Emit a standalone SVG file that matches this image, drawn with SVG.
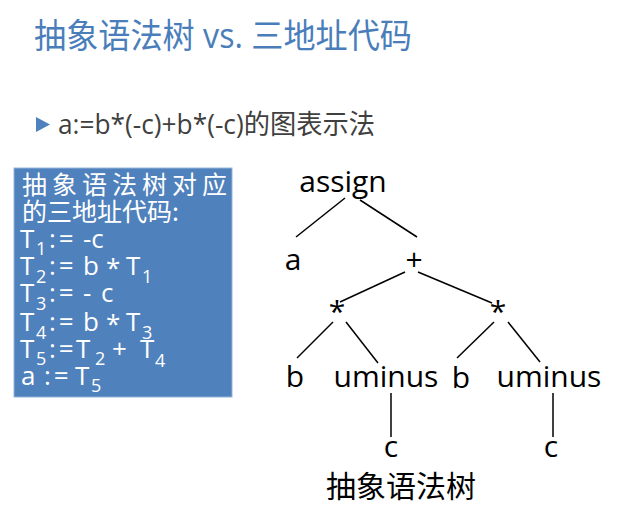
<svg xmlns="http://www.w3.org/2000/svg" width="624" height="507" viewBox="0 0 624 507">
<style>
.title{font-family:"Open Sans","Noto Sans CJK SC",sans-serif;font-size:34px;fill:#4a7ebb}
.sub{font-family:"Open Sans","Noto Sans CJK SC",sans-serif;font-size:27px;fill:#404040}
.box{font-family:"Open Sans","Noto Sans CJK SC",sans-serif;font-size:26px;fill:#ffffff}
.boxcjk{font-family:"Noto Sans CJK SC",sans-serif;font-size:25px;fill:#ffffff}
.s{font-size:18px}
.eq{letter-spacing:3px}
.node{font-family:"Open Sans","Noto Sans CJK SC",sans-serif;font-size:30px;fill:#000000;text-anchor:middle}
.edge{stroke:#000;stroke-width:1.5;fill:none}
</style>
<rect width="624" height="507" fill="#fff"/>
<text class="title" x="34" y="48" textLength="378" lengthAdjust="spacingAndGlyphs">抽象语法树 vs. 三地址代码</text>
<polygon points="36,117 50,124.5 36,132" fill="#4f81bd"/>
<text class="sub" x="58" y="134" textLength="317" lengthAdjust="spacingAndGlyphs">a:=b*(-c)+b*(-c)的图表示法</text>
<g id="code-box">
<rect x="14" y="168" width="218" height="229" fill="#4f81bd" stroke="#95b3d7" stroke-width="1"/>
<text class="boxcjk" x="22" y="194" textLength="205" lengthAdjust="spacing">抽象语法树对应</text>
<text class="boxcjk" x="22" y="221">的三地址代码:</text>
<g class="box">
<text x="20" y="248">T</text><text class="s" x="36" y="255">1</text><text class="eq" x="49" y="248">:=</text><text x="83" y="248">-c</text>
<text x="20" y="275">T</text><text class="s" x="36" y="283">2</text><text class="eq" x="49" y="275">:=</text><text x="83" y="275">b</text><text x="106" y="277">*</text><text x="126" y="275">T</text><text class="s" x="142" y="283">1</text>
<text x="20" y="302">T</text><text class="s" x="36" y="310">3</text><text class="eq" x="49" y="302">:=</text><text x="83" y="302">-</text><text x="101" y="302">c</text>
<text x="20" y="331">T</text><text class="s" x="36" y="339">4</text><text class="eq" x="49" y="331">:=</text><text x="83" y="331">b</text><text x="106" y="333">*</text><text x="126" y="331">T</text><text class="s" x="142" y="339">3</text>
<text x="20" y="358">T</text><text class="s" x="36" y="365">5</text><text class="eq" x="49" y="358">:=</text><text x="76" y="358">T</text><text class="s" x="95" y="365">2</text><text x="112" y="358">+</text><text x="140" y="358">T</text><text class="s" x="155" y="367">4</text>
<text x="21" y="385">a</text><text class="eq" x="44" y="385">:=</text><text x="75" y="385">T</text><text class="s" x="91" y="392">5</text>
</g>
</g>
<g id="connectors">
<line class="edge" x1="345" y1="198" x2="296" y2="237"/>
<line class="edge" x1="360" y1="200" x2="417" y2="237"/>
<line class="edge" x1="405" y1="272" x2="340" y2="302"/>
<line class="edge" x1="418" y1="272" x2="492" y2="303"/>
<line class="edge" x1="333" y1="322" x2="297" y2="358"/>
<line class="edge" x1="346" y1="322" x2="378" y2="363"/>
<line class="edge" x1="494" y1="322" x2="457" y2="358"/>
<line class="edge" x1="508" y1="322" x2="540" y2="362"/>
<line class="edge" x1="391" y1="393" x2="391" y2="437"/>
<line class="edge" x1="553" y1="393" x2="553" y2="437"/>
</g>
<g id="n-assign"><text class="node" x="343" y="192">assign</text></g>
<g id="n-a"><text class="node" x="293" y="270">a</text></g>
<g id="n-plus"><text class="node" x="414" y="270">+</text></g>
<g id="n-mul1"><text class="node" x="337" y="322">*</text></g>
<g id="n-mul2"><text class="node" x="498" y="322">*</text></g>
<g id="n-b1"><text class="node" x="295" y="387">b</text></g>
<g id="n-uminus1"><text class="node" x="386" y="387">uminus</text></g>
<g id="n-b2"><text class="node" x="461" y="388">b</text></g>
<g id="n-uminus2"><text class="node" x="549" y="387">uminus</text></g>
<g id="n-c1"><text class="node" x="391" y="457">c</text></g>
<g id="n-c2"><text class="node" x="551" y="457">c</text></g>
<text class="node" x="401" y="497">抽象语法树</text>
</svg>
